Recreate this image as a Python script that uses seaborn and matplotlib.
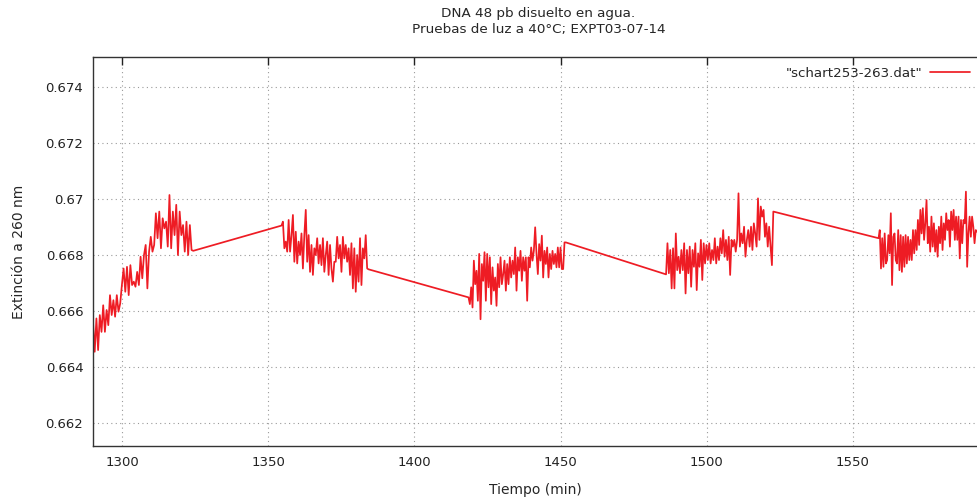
import matplotlib
matplotlib.use("Agg")
import matplotlib.pyplot as plt
import numpy as np
import pandas as pd
import seaborn as sns

seg1_t = (1290.0, 1324.3)
seg1_y = [0.66562, 0.66455, 0.66574, 0.66461, 0.66586, 0.66526, 0.66621, 0.66526,
          0.66604, 0.66550, 0.66657, 0.66586, 0.66639, 0.66580, 0.66657, 0.66598,
          0.66627, 0.66693, 0.66752, 0.66669, 0.66758, 0.66657, 0.66764, 0.66693,
          0.66705, 0.66687, 0.66740, 0.66693, 0.66794, 0.66717, 0.66800, 0.66836,
          0.66681, 0.66812, 0.66865, 0.66812, 0.66836, 0.66949, 0.66860, 0.66955,
          0.66824, 0.66931, 0.66895, 0.66919, 0.66830, 0.67014, 0.66824, 0.66955,
          0.66871, 0.66979, 0.66800, 0.66955, 0.66871, 0.66907, 0.66812, 0.66919,
          0.66800, 0.66907, 0.66818, 0.66815]

seg2_t = (1354.5, 1384.3)
seg2_y = [0.66905, 0.66919, 0.66824, 0.66848, 0.66812, 0.66925, 0.66812, 0.66871,
          0.66943, 0.66776, 0.66883, 0.66770, 0.66848, 0.66800, 0.66877, 0.66752,
          0.66871, 0.66961, 0.66776, 0.66871, 0.66740, 0.66836, 0.66729, 0.66824,
          0.66800, 0.66860, 0.66770, 0.66836, 0.66764, 0.66860, 0.66740, 0.66800,
          0.66848, 0.66729, 0.66836, 0.66752, 0.66705, 0.66776, 0.66776, 0.66865,
          0.66788, 0.66836, 0.66740, 0.66865, 0.66788, 0.66836, 0.66776, 0.66824,
          0.66729, 0.66842, 0.66681, 0.66824, 0.66669, 0.66800, 0.66705, 0.66860,
          0.66693, 0.66824, 0.66788, 0.66871, 0.66752, 0.66749]

seg3_t = (1418.5, 1451.8)
seg3_y = [0.66649, 0.66625, 0.66685, 0.66613, 0.66780, 0.66696, 0.66744, 0.66637,
          0.66804, 0.66571, 0.66768, 0.66708, 0.66810, 0.66637, 0.66804, 0.66685,
          0.66792, 0.66625, 0.66756, 0.66673, 0.66720, 0.66619, 0.66768, 0.66685,
          0.66792, 0.66696, 0.66732, 0.66780, 0.66673, 0.66768, 0.66696, 0.66792,
          0.66720, 0.66780, 0.66732, 0.66827, 0.66673, 0.66792, 0.66744, 0.66815,
          0.66708, 0.66792, 0.66744, 0.66792, 0.66637, 0.66792, 0.66756, 0.66827,
          0.66780, 0.66815, 0.66899, 0.66804, 0.66732, 0.66839, 0.66780, 0.66869,
          0.66720, 0.66815, 0.66768, 0.66827, 0.66720, 0.66804, 0.66750, 0.66815,
          0.66768, 0.66804, 0.66756, 0.66827, 0.66756, 0.66827, 0.66750, 0.66750,
          0.66845, 0.66845]

seg4_t = (1486.1, 1522.8)
seg4_y = [0.66731, 0.66842, 0.66735, 0.66818, 0.66681, 0.66824, 0.66681, 0.66877,
          0.66746, 0.66794, 0.66735, 0.66818, 0.66746, 0.66842, 0.66663, 0.66818,
          0.66735, 0.66830, 0.66687, 0.66818, 0.66758, 0.66842, 0.66675, 0.66806,
          0.66758, 0.66854, 0.66711, 0.66842, 0.66770, 0.66836, 0.66782, 0.66842,
          0.66770, 0.66818, 0.66782, 0.66860, 0.66770, 0.66830, 0.66782, 0.66860,
          0.66806, 0.66889, 0.66794, 0.66854, 0.66782, 0.66865, 0.66729, 0.66854,
          0.66830, 0.66854, 0.66812, 0.66854, 0.67020, 0.66830, 0.66877, 0.66842,
          0.66901, 0.66794, 0.66854, 0.66889, 0.66830, 0.66901, 0.66818, 0.66913,
          0.66877, 0.66830, 0.67002, 0.66854, 0.66973, 0.66937, 0.66961, 0.66865,
          0.66913, 0.66830, 0.66901, 0.66830, 0.66764, 0.66955]

seg5_t = (1558.8, 1592.5)
seg5_y = [0.66860, 0.66889, 0.66752, 0.66860, 0.66758, 0.66877, 0.66770, 0.66782,
          0.66871, 0.66806, 0.66949, 0.66693, 0.66865, 0.66877, 0.66782, 0.66770,
          0.66889, 0.66746, 0.66871, 0.66740, 0.66865, 0.66758, 0.66871, 0.66770,
          0.66865, 0.66782, 0.66854, 0.66782, 0.66889, 0.66806, 0.66889, 0.66818,
          0.66925, 0.66836, 0.66961, 0.66877, 0.66967, 0.66854, 0.66913, 0.66996,
          0.66842, 0.66901, 0.66812, 0.66937, 0.66830, 0.66913, 0.66812, 0.66889,
          0.66794, 0.66901, 0.66842, 0.66937, 0.66818, 0.66913, 0.66854, 0.66949,
          0.66889, 0.66925, 0.66830, 0.66955, 0.66889, 0.66961, 0.66854, 0.66937,
          0.66854, 0.66937, 0.66788, 0.66925, 0.66842, 0.66925, 0.66913, 0.67026,
          0.66758, 0.66877, 0.66937, 0.66865, 0.66937, 0.66901, 0.66842, 0.66889,
          0.66883]

x_ticks = [1300, 1350, 1400, 1450, 1500, 1550]
y_ticks = [0.662, 0.664, 0.666, 0.668, 0.670, 0.672, 0.674]
y_tick_labels = ['0.662', '0.664', '0.666', '0.668', '0.67', '0.672', '0.674']

LABEL = '"schart253-263.dat"'


def build_df():
    parts = []
    for (t0, t1), vals in [(seg1_t, seg1_y), (seg2_t, seg2_y), (seg3_t, seg3_y),
                           (seg4_t, seg4_y), (seg5_t, seg5_y)]:
        t = np.linspace(t0, t1, len(vals))
        parts.append(pd.DataFrame({'tiempo': t, 'ext': vals}))
    df = pd.concat(parts, ignore_index=True)
    df['archivo'] = LABEL
    return df


def main():
    sns.set_style("white")
    plt.rcParams['font.family'] = ['DejaVu Sans']

    df = build_df()

    fig = plt.figure(figsize=(9.77, 5.03), dpi=100)
    ax = fig.add_axes([0.0952, 0.1127, 0.9048, 0.7745])

    sns.lineplot(data=df, x='tiempo', y='ext', hue='archivo', palette=['#ee1c24'],
                 sort=False, estimator=None, linewidth=1.25, ax=ax)

    ax.set_xlim(1290, 1592.5)
    ax.set_ylim(0.66118, 0.67507)
    ax.set_xticks(x_ticks)
    ax.set_yticks(y_ticks)
    ax.set_yticklabels(y_tick_labels)

    # rejilla punteada estilo gnuplot
    ax.grid(True, linestyle=(0, (1, 3)), color='#9a9a9a', linewidth=0.8)
    ax.tick_params(direction='in', length=6, width=1, top=True, right=False,
                   labelsize=9.5, colors='#222222', pad=7)
    for side in ['left', 'bottom', 'top']:
        ax.spines[side].set_color('#333333')
        ax.spines[side].set_linewidth(1.0)
    ax.spines['right'].set_visible(False)

    ax.set_xlabel('Tiempo (min)', fontsize=10, labelpad=10)
    ax.set_ylabel('Extinción a 260 nm', fontsize=10, labelpad=14)
    ax.set_title('DNA 48 pb disuelto en agua.\nPruebas de luz a 40°C; EXPT03-07-14',
                 fontsize=9.7, pad=17, linespacing=1.35, x=0.504)

    ax.legend(loc='upper right', bbox_to_anchor=(0.992, 0.974), frameon=False,
              markerfirst=False, handlelength=3.0, handletextpad=0.6,
              borderpad=0, borderaxespad=0, fontsize=9.6)

    fig.savefig('out.png', dpi=100)


if __name__ == '__main__':
    main()
